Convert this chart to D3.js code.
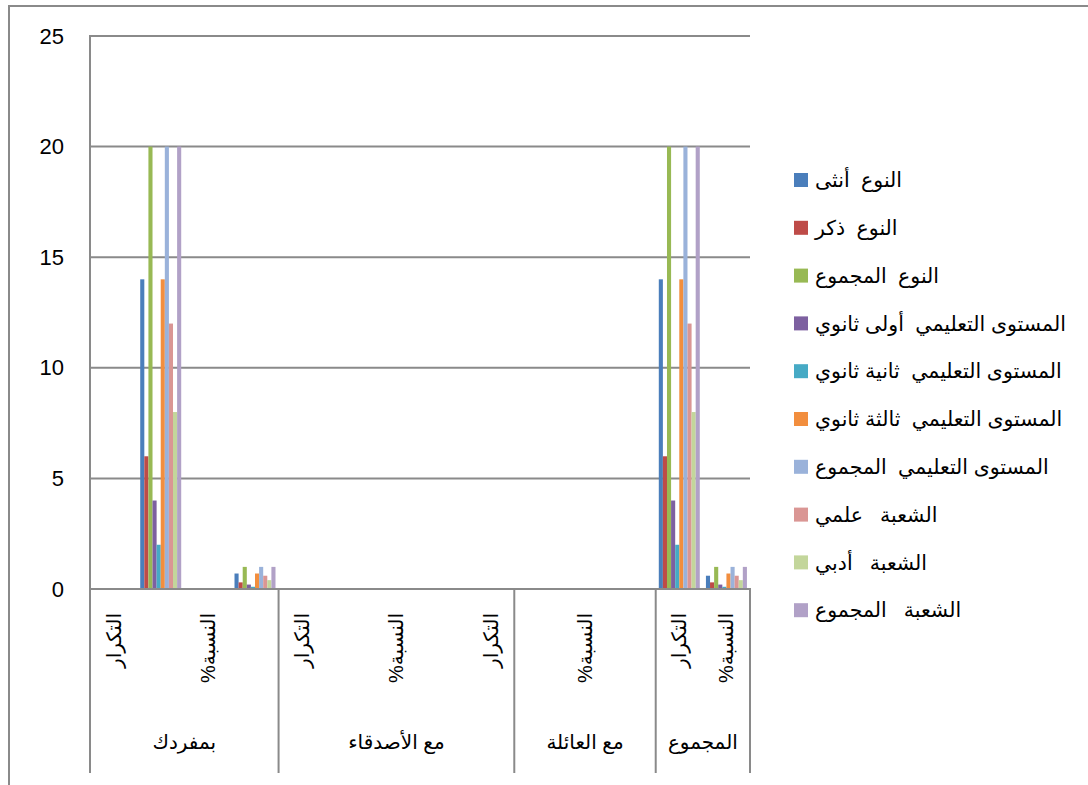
<!DOCTYPE html>
<html>
<head>
<meta charset="utf-8">
<script src="https://cdn.jsdelivr.net/npm/d3@7"></script>
<style>
  body { margin: 0; background: #fff; }
  svg text { font-family: "Liberation Sans", Arial, "DejaVu Sans", sans-serif; fill: #000; }
</style>
</head>
<body>
<script>
// categories (inner level) - blank entries are the merged cells of the table
var categories = ["التكرار", "", "النسبة%", "", "التكرار", "", "النسبة%", "", "التكرار", "", "النسبة%", "", "التكرار", "النسبة%"];
// outer level groups and how many categories each covers
var groups = ["بمفردك", "مع الأصدقاء", "مع العائلة", "المجموع"];
var groupSizes = [4, 5, 3, 2];

var seriesNames = [
  "النوع  أنثى",
  "النوع  ذكر",
  "النوع  المجموع",
  "المستوى التعليمي  أولى ثانوي",
  "المستوى التعليمي  ثانية ثانوي",
  "المستوى التعليمي  ثالثة ثانوي",
  "المستوى التعليمي  المجموع",
  "الشعبة   علمي",
  "الشعبة   أدبي",
  "الشعبة   المجموع"
];
var colors = ["#4a7ebb", "#be4b48", "#98b954", "#7d60a0", "#46aac5", "#f28e3e", "#9ab2da", "#da9694", "#c3d69b", "#b1a1c7"];

// one array per series, one value per category
var untha      = [0, 14, 0, 0.7, 0, 0, 0, 0, 0, 0, 0, 0, 14, 0.6];
var thakar     = [0, 6,  0, 0.3, 0, 0, 0, 0, 0, 0, 0, 0, 6,  0.3];
var nawTotal   = [0, 20, 0, 1,   0, 0, 0, 0, 0, 0, 0, 0, 20, 1];
var oula       = [0, 4,  0, 0.2, 0, 0, 0, 0, 0, 0, 0, 0, 4,  0.2];
var thania     = [0, 2,  0, 0.1, 0, 0, 0, 0, 0, 0, 0, 0, 2,  0.1];
var thalitha   = [0, 14, 0, 0.7, 0, 0, 0, 0, 0, 0, 0, 0, 14, 0.7];
var levelTotal = [0, 20, 0, 1,   0, 0, 0, 0, 0, 0, 0, 0, 20, 1];
var ilmi       = [0, 12, 0, 0.6, 0, 0, 0, 0, 0, 0, 0, 0, 12, 0.6];
var adabi      = [0, 8,  0, 0.4, 0, 0, 0, 0, 0, 0, 0, 0, 8,  0.4];
var branchTotal= [0, 20, 0, 1,   0, 0, 0, 0, 0, 0, 0, 0, 20, 1];
var seriesValues = [untha, thakar, nawTotal, oula, thania, thalitha, levelTotal, ilmi, adabi, branchTotal];

var yTicks = [0, 5, 10, 15, 20, 25];

function main() {
  var w = 1088, h = 785;
  var plotLeft = 90, plotRight = 750, plotTop = 36, plotBottom = 589, labelBottom = 773;
  var axisColor = "#8a8a8a";

  var svg = d3.select("body").append("svg")
    .attr("width", w)
    .attr("height", h);

  // outer frame (cut off at the right / bottom)
  svg.append("path")
    .attr("d", "M9," + h + "V6H" + w)
    .attr("fill", "none")
    .attr("stroke", axisColor)
    .attr("stroke-width", 2);

  var idx = d3.range(categories.length);

  var xScale = d3.scaleBand()
    .domain(idx)
    .range([plotLeft, plotRight])
    .padding(0);

  var xInner = d3.scaleBand()
    .domain(d3.range(seriesNames.length))
    .range([0, xScale.bandwidth()])
    .paddingInner(0)
    .paddingOuter(0.75);

  var yScale = d3.scaleLinear()
    .domain([0, 25])
    .range([plotBottom, plotTop]);

  // gridlines
  svg.append("g").selectAll("line")
    .data(yTicks.filter(d => d > 0))
    .enter().append("line")
    .attr("x1", plotLeft)
    .attr("x2", plotRight)
    .attr("y1", d => yScale(d))
    .attr("y2", d => yScale(d))
    .attr("stroke", axisColor)
    .attr("stroke-width", 2);

  // y axis
  var yAxis = d3.axisLeft(yScale).tickValues(yTicks).tickSize(0).tickPadding(26);
  var gy = svg.append("g")
    .attr("transform", "translate(" + plotLeft + ",0)")
    .call(yAxis);
  gy.select(".domain").remove();
  gy.selectAll("text")
    .attr("font-size", 22)
    .attr("font-family", "Liberation Sans, Arial, sans-serif")
    .attr("fill", "#000");

  // bars
  var barData = [];
  seriesValues.forEach(function (vals, s) {
    vals.forEach(function (v, c) {
      if (v > 0) barData.push({ s: s, c: c, v: v });
    });
  });

  svg.append("g").selectAll("rect")
    .data(barData)
    .enter().append("rect")
    .attr("x", d => xScale(d.c) + xInner(d.s))
    .attr("width", xInner.bandwidth())
    .attr("y", d => yScale(d.v))
    .attr("height", d => yScale(0) - yScale(d.v))
    .attr("fill", d => colors[d.s]);

  // axis lines
  svg.append("line")
    .attr("x1", plotLeft).attr("x2", plotLeft)
    .attr("y1", plotTop - 1).attr("y2", labelBottom)
    .attr("stroke", axisColor).attr("stroke-width", 2);
  svg.append("line")
    .attr("x1", plotLeft - 1).attr("x2", plotRight + 1)
    .attr("y1", plotBottom).attr("y2", plotBottom)
    .attr("stroke", axisColor).attr("stroke-width", 2);

  // inner category labels (rotated, rtl)
  svg.append("g").selectAll("text")
    .data(idx.filter(i => categories[i] != ""))
    .enter().append("text")
    .attr("transform", i => "translate(" + (xScale(i) + xScale.bandwidth() / 2) + ",613) rotate(-90)")
    .attr("direction", "rtl")
    .attr("text-anchor", "start")
    .attr("dy", "0.35em")
    .attr("font-size", 20)
    .text(i => categories[i]);

  // group separators and labels
  var start = 0;
  groups.forEach(function (g, k) {
    var x0 = xScale(start);
    var end = start + groupSizes[k];
    var x1 = end < categories.length ? xScale(end) : plotRight;
    svg.append("line")
      .attr("x1", x1).attr("x2", x1)
      .attr("y1", plotBottom).attr("y2", labelBottom)
      .attr("stroke", axisColor).attr("stroke-width", 2);
    svg.append("text")
      .attr("x", (x0 + x1) / 2)
      .attr("y", 749)
      .attr("text-anchor", "middle")
      .attr("direction", "rtl")
      .attr("font-size", 20)
      .text(g);
    start = end;
  });

  // legend
  var legend = svg.append("g").selectAll("g")
    .data(seriesNames)
    .enter().append("g")
    .attr("transform", (d, i) => "translate(794," + (180 + i * 47.8) + ")");

  legend.append("rect")
    .attr("x", 0).attr("y", -7)
    .attr("width", 14).attr("height", 14)
    .attr("fill", (d, i) => colors[i]);

  legend.append("text")
    .attr("x", 21)
    .attr("dy", "0.35em")
    .attr("direction", "rtl")
    .attr("text-anchor", "end")
    .attr("font-size", 20.5)
    .style("white-space", "pre")
    .text(d => d);
}

main();
</script>
</body>
</html>
